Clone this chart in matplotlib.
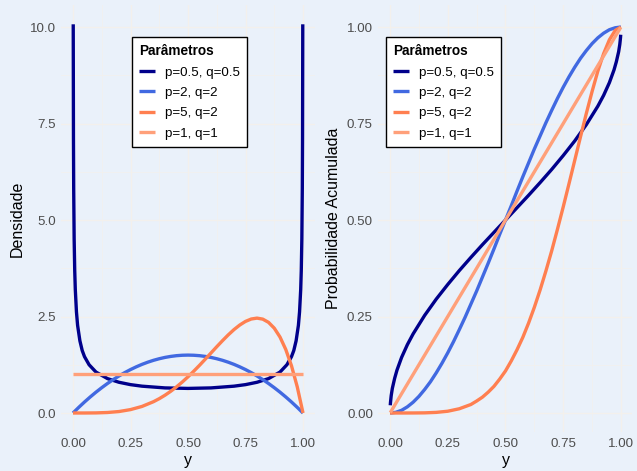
import matplotlib.pyplot as plt
from matplotlib.ticker import MultipleLocator

# values
labels = ["p=0.5, q=0.5", "p=2, q=2", "p=5, q=2", "p=1, q=1"]
colors = ["#00008B", "#4169E1", "#FF7F50", "#FFA07A"]

# p=0.5, q=0.5
x_a = [0.001, 0.002, 0.003, 0.005, 0.0075, 0.01, 0.015, 0.02, 0.03, 0.04, 0.05,
       0.07, 0.1, 0.15, 0.2, 0.25, 0.3, 0.4, 0.5, 0.6, 0.7, 0.75, 0.8, 0.85, 0.9,
       0.93, 0.95, 0.96, 0.97, 0.98, 0.985, 0.99, 0.9925, 0.995, 0.997, 0.998, 0.999]
dens_a = [10.07, 7.12, 5.82, 4.51, 3.69, 3.20, 2.62, 2.27, 1.87, 1.62, 1.46,
          1.25, 1.06, 0.891, 0.796, 0.735, 0.695, 0.650, 0.637, 0.650, 0.695, 0.735,
          0.796, 0.891, 1.06, 1.25, 1.46, 1.62, 1.87, 2.27, 2.62, 3.20, 3.69, 4.51,
          5.82, 7.12, 10.07]
xc_a = [0.001, 0.002, 0.005, 0.01, 0.02, 0.03, 0.05, 0.075, 0.1, 0.15, 0.2, 0.25,
        0.3, 0.35, 0.4, 0.45, 0.5, 0.55, 0.6, 0.65, 0.7, 0.75, 0.8, 0.85, 0.9,
        0.925, 0.95, 0.97, 0.98, 0.99, 0.995, 0.998, 0.999]
cum_a = [0.020, 0.028, 0.045, 0.064, 0.090, 0.111, 0.144, 0.177, 0.205, 0.253,
         0.295, 0.333, 0.369, 0.403, 0.436, 0.468, 0.500, 0.532, 0.564, 0.597,
         0.631, 0.667, 0.705, 0.747, 0.795, 0.823, 0.856, 0.889, 0.910, 0.936,
         0.955, 0.972, 0.980]

# p=2, q=2
x_b = [0.0, 0.025, 0.05, 0.075, 0.1, 0.125, 0.15, 0.175, 0.2, 0.225, 0.25,
       0.275, 0.3, 0.325, 0.35, 0.375, 0.4, 0.425, 0.45, 0.475, 0.5,
       0.525, 0.55, 0.575, 0.6, 0.625, 0.65, 0.675, 0.7, 0.725, 0.75,
       0.775, 0.8, 0.825, 0.85, 0.875, 0.9, 0.925, 0.95, 0.975, 1.0]
dens_b = [0.0, 0.146, 0.285, 0.416, 0.54, 0.656, 0.765, 0.866, 0.96, 1.046, 1.125,
          1.196, 1.26, 1.316, 1.365, 1.406, 1.44, 1.466, 1.485, 1.496, 1.5,
          1.496, 1.485, 1.466, 1.44, 1.406, 1.365, 1.316, 1.26, 1.196, 1.125,
          1.046, 0.96, 0.866, 0.765, 0.656, 0.54, 0.416, 0.285, 0.146, 0.0]
cum_b = [0.0, 0.0018, 0.007, 0.016, 0.028, 0.043, 0.061, 0.081, 0.104, 0.129, 0.156,
         0.185, 0.216, 0.248, 0.282, 0.316, 0.352, 0.388, 0.425, 0.463, 0.5,
         0.537, 0.575, 0.612, 0.648, 0.684, 0.718, 0.752, 0.784, 0.815, 0.844,
         0.871, 0.896, 0.919, 0.939, 0.957, 0.972, 0.984, 0.993, 0.998, 1.0]

# p=5, q=2
x_c = [0.0, 0.05, 0.1, 0.15, 0.2, 0.25, 0.3, 0.35, 0.375, 0.4, 0.425, 0.45,
       0.475, 0.5, 0.525, 0.55, 0.575, 0.6, 0.625, 0.65, 0.675, 0.7, 0.725,
       0.75, 0.775, 0.8, 0.825, 0.85, 0.875, 0.9, 0.925, 0.95, 0.975, 1.0]
dens_c = [0.0, 0.0002, 0.0027, 0.013, 0.038, 0.088, 0.170, 0.293, 0.371, 0.461,
          0.563, 0.677, 0.802, 0.938, 1.083, 1.235, 1.394, 1.555, 1.717, 1.874,
          2.024, 2.161, 2.279, 2.373, 2.435, 2.458, 2.432, 2.349, 2.198, 1.968,
          1.647, 1.222, 0.678, 0.0]
cum_c = [0.0, 0.0, 0.0001, 0.0004, 0.0016, 0.0046, 0.011, 0.022, 0.031, 0.041,
         0.054, 0.069, 0.088, 0.109, 0.135, 0.164, 0.196, 0.233, 0.274, 0.319,
         0.368, 0.420, 0.476, 0.534, 0.594, 0.655, 0.716, 0.776, 0.833, 0.886,
         0.931, 0.967, 0.991, 1.0]

# p=1, q=1
x_d = [0.001, 0.999]
dens_d = [1.0, 1.0]
cum_d = [0.001, 0.999]

bg = "#eaf1fa"
grid_col = "#f3f0ec"
font = "Liberation Sans"

plt.rcParams['font.family'] = [font, 'DejaVu Sans']

fig = plt.figure(figsize=(6.37, 4.71), dpi=100, facecolor=bg)

W, H = 637.0, 471.0
ax1 = fig.add_axes([61.5 / W, 1 - 432.3 / H, 253 / W, 427.3 / H])
ax2 = fig.add_axes([378.5 / W, 1 - 432.3 / H, 254 / W, 427.3 / H])

dens = [(x_a, dens_a), (x_b, dens_b), (x_c, dens_c), (x_d, dens_d)]
cums = [(xc_a, cum_a), (x_b, cum_b), (x_c, cum_c), (x_d, cum_d)]

for ax, series, ylab in [(ax1, dens, "Densidade"),
                         (ax2, cums, "Probabilidade Acumulada")]:
    ax.set_facecolor(bg)
    for (xs, ys), lab, col in zip(series, labels, colors):
        ax.plot(xs, ys, color=col, lw=2.4, label=lab, solid_capstyle='butt')
    for s in ax.spines.values():
        s.set_visible(False)
    ax.set_xlim(-0.05, 1.05)
    ax.xaxis.set_major_locator(MultipleLocator(0.25))
    ax.xaxis.set_minor_locator(MultipleLocator(0.125))
    ax.xaxis.set_major_formatter(lambda v, p: f"{v:.2f}")
    ax.grid(which='major', color=grid_col, lw=1.0)
    ax.grid(which='minor', color=grid_col, lw=0.5)
    ax.set_axisbelow(True)
    ax.tick_params(which='both', length=0, labelsize=9.6, labelcolor="#4d4d4d",
                   pad=4)
    ax.set_xlabel("y", fontsize=11.5, labelpad=2)
    ax.set_ylabel(ylab, fontsize=11.5, labelpad=4)
    leg = ax.legend(title="Parâmetros", loc='upper left', fontsize=9.6,
                    frameon=True, fancybox=False, handlelength=1.2,
                    handletextpad=0.7, labelspacing=0.6, borderpad=0.55,
                    borderaxespad=0,
                    title_fontproperties={'weight': 'bold', 'size': 9.8})
    leg._legend_box.align = "left"
    leg.get_frame().set_edgecolor("black")
    leg.get_frame().set_linewidth(1.0)
    leg.get_frame().set_facecolor("white")
    leg.get_frame().set_alpha(1)

ax1.set_ylim(-0.5, 10.57)
ax1.yaxis.set_major_locator(MultipleLocator(2.5))
ax1.yaxis.set_minor_locator(MultipleLocator(1.25))
ax1.yaxis.set_major_formatter(lambda v, p: f"{v:.1f}")
ax1.get_legend().set_bbox_to_anchor((0.279, 0.925))

ax2.set_ylim(-0.05, 1.057)
ax2.yaxis.set_major_locator(MultipleLocator(0.25))
ax2.yaxis.set_minor_locator(MultipleLocator(0.125))
ax2.yaxis.set_major_formatter(lambda v, p: f"{v:.2f}")
ax2.get_legend().set_bbox_to_anchor((0.03, 0.925))

fig.savefig("out.png", dpi=100, facecolor=bg)
